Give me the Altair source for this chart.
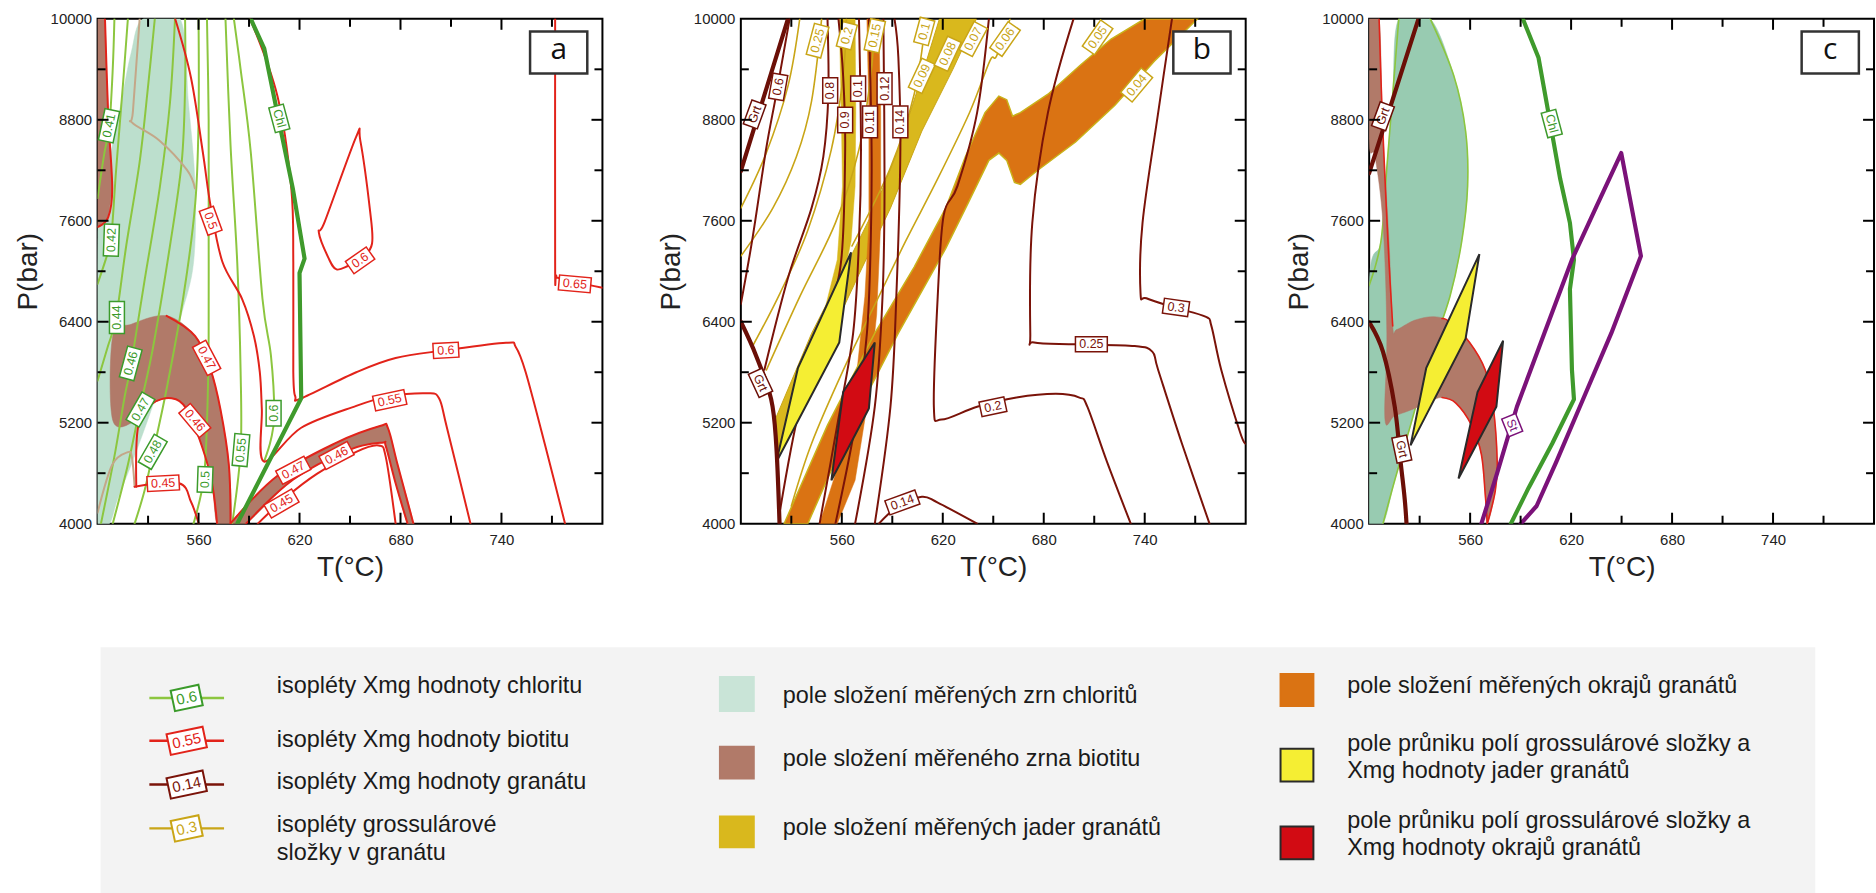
import altair as alt
import pandas as pd

# ======================= DATA =======================
T_DOMAIN = [500, 800]
P_DOMAIN = [4000, 10000]
T_LABELS = [560, 620, 680, 740]
P_LABELS = [4000, 5200, 6400, 7600, 8800, 10000]
T_TICKS_MAJOR = [560, 620, 680, 740]
T_TICKS_MINOR = [530, 590, 650, 710, 770]
P_TICKS_MAJOR = [5200, 6400, 7600, 8800]
P_TICKS_MINOR = [4600, 5800, 7000, 8200, 9400]
PANEL_LETTERS = ["a", "b", "c"]

# ---------- panel a ----------
A_CHL_FIELD = [(527, 10000), (549, 10000), (554, 9000), (558, 8000), (557, 7100), (550, 6500), (541, 5900),
               (531, 5300), (520, 4700), (512, 4300), (507, 4000), (500, 4000), (500, 7400), (506, 8200),
               (514, 9000), (520, 9600)]
A_BT_STRIP = [(500, 10000), (504.4, 10000), (506.3, 8860), (508.7, 7990), (506.3, 7640), (500, 7525)]
A_BT_BLOB = [(509, 5230), (509, 6230), (520, 6370), (541, 6470), (558, 6230), (567, 5840), (573, 5360),
             (578, 4700), (579, 4000), (571, 4000), (568, 4480), (562, 4920), (553, 5360), (544, 5490),
             (532, 5420), (523, 5230)]
A_BT_RIBBON = [(578.9, 4000), (606.9, 4569), (642, 4963), (667.8, 5160), (672.5, 5138), (678.3, 4700),
               (687.7, 4000), (684.2, 4000), (677.1, 4481), (671.3, 4919), (669, 4963), (649.1, 4875),
               (616.3, 4525), (588.2, 4000)]
A_G041 = [(500, 7870), (504, 8400), (507, 8730), (509, 9400), (510, 10000)]
A_G042 = [(500, 6850), (505, 7150), (508, 7370), (511, 8200), (515, 9200), (518, 10000)]
A_G044 = [(500, 5700), (506, 6100), (511, 6450), (517, 7300), (525, 8300), (530, 9200), (534, 10000)]
A_G046 = [(502, 4000), (510, 4800), (516, 5500), (520, 5900), (528, 6900), (537, 8000), (543, 9000), (546, 10000)]
A_G047 = [(509, 4000), (518, 4700), (525, 5360), (533, 6100), (543, 7300), (550, 8300), (552, 9200), (552, 10000)]
A_G048 = [(522, 4000), (528, 4400), (533, 4850), (541, 5600), (551, 6700), (558, 7800), (560, 8800), (560, 10000)]
A_G050 = [(557, 4000), (563, 4520), (565, 5200), (566, 6200), (566, 7500), (566, 8800), (565, 10000)]
A_G055 = [(580, 4000), (585, 4870), (585, 5800), (583, 7100), (579, 8500), (576, 10000)]
A_G060 = [(599, 4740), (603, 5000), (605, 5310), (603, 6000), (598, 6670), (591, 8420), (585, 9400), (581, 10000)]
A_TAN_1 = [(525, 10000), (521, 8900), (520.4, 8770), (536.7, 8555), (553.1, 8204), (557.8, 7985)]
A_TAN_2 = [(500, 4130), (508.7, 4700), (518, 4850), (520.4, 4790), (522, 4440)]
A_R_LEFT = [(504.4, 10000), (506.3, 8860), (508.7, 7990), (506.3, 7640), (500, 7525)]
A_R_050 = [(546.1, 10000), (555.5, 9300), (562.5, 8420), (567.2, 7770), (574.2, 7110), (585.9, 6670),
           (592.9, 6230), (596.4, 5800), (597.6, 5360), (598.7, 4740), (621, 5140), (653.7, 5400),
           (672.5, 5510), (695.9, 5550), (702.9, 5490), (707.6, 5140), (721.6, 4000)]
A_R_060 = [(590.6, 10000), (606.9, 9080), (615.1, 7990), (616.3, 7110), (616.3, 5800), (617.5, 5510),
           (621, 5490), (653.7, 5800), (677.1, 5970), (706.4, 6060), (742.7, 6150), (748.5, 6100),
           (754.4, 5800), (766.1, 4920), (777.8, 4000)]
A_R_LOOP = [(635, 7590), (653.7, 8600), (656.1, 8555), (661.9, 7720), (663.1, 7330), (657.2, 7150),
            (649.1, 7065), (642, 7022), (637.4, 7150), (631.5, 7460)]
A_R_065 = [(771.9, 10000), (771.9, 7100), (772.5, 6950), (775.4, 6912), (800, 6803)]
A_R_047 = [(541, 6470), (558, 6230), (567, 5840), (573, 5360), (578, 4700), (579, 4000)]
A_R_046 = [(523, 4440), (524, 5140), (532, 5420), (544, 5490), (553, 5360), (562, 4920), (568, 4480), (571, 4000)]
A_R_045 = [(522, 4440), (548.4, 4480), (555.5, 4260), (560.1, 4000)]
A_R_047_LOW = [(578.9, 4000), (606.9, 4569), (642, 4963), (667.8, 5160), (672.5, 5138), (678.3, 4700), (687.7, 4000)]
A_R_046_LOW = [(588.2, 4000), (616.3, 4525), (649.1, 4875), (669, 4963), (671.3, 4919), (677.1, 4481), (684.2, 4000)]
A_R_045_LOW = [(595.2, 4000), (611.6, 4306), (630.3, 4591), (653.7, 4854), (667, 4930), (671.3, 4788), (677.1, 4000)]
A_CHL = [(591, 10000), (599, 9650), (607, 8860), (616, 7985), (623, 7150), (620, 6980), (621, 5490), (583, 4000)]
A_LAB_CHL = [("0.41", 506.8, 8730, 282), ("0.42", 508.2, 7370, 272), ("0.44", 511.5, 6450, 270),
             ("0.46", 519.7, 5905, 285), ("0.47", 525.5, 5357, 300), ("0.48", 532.8, 4854, 300),
             ("0.5", 563.9, 4525, 272), ("0.55", 585.2, 4875, 275), ("0.6", 604.6, 5313, 270)]
A_LAB_BT = [("0.5", 567.2, 7600, 70), ("0.47", 564.8, 5970, 62), ("0.46", 557.8, 5226, 50),
            ("0.45", 539, 4481, 357), ("0.6", 656, 7130, 325), ("0.65", 783.6, 6850, 5),
            ("0.6", 707, 6060, 357), ("0.55", 673.6, 5467, 348), ("0.47", 616.3, 4635, 332),
            ("0.46", 642, 4810, 332), ("0.45", 609.3, 4240, 330)]
A_LAB_CHL_LINE = [("Chl", 608, 8817, 75)]

# ---------- panel b ----------
B_GOLD_A = [(558.5, 10000), (559.7, 8886), (560.4, 8012), (557.3, 7138), (549.1, 6482), (535.1, 5827),
            (523.4, 5259), (519.9, 5171), (522.2, 4778), (530.4, 5084), (544.5, 5827), (558.5, 6701),
            (565.5, 7356), (567.9, 8012), (568.3, 8886), (567.9, 10000)]
B_GOLD_B = [(519.9, 5215), (542.1, 6264), (565.5, 7181), (579.6, 7750), (593.6, 8449), (607.6, 9323),
            (618, 10000), (640, 10000), (626, 9400), (607.6, 8667), (588.9, 7750), (570.2, 6963),
            (546.8, 5958), (522.2, 4822)]
B_ORANGE_C = [(574.9, 10000), (576.1, 8886), (576.1, 7575), (573.7, 6701), (567.9, 5608), (558.5, 4734),
              (546.8, 4000), (557.3, 4000), (567.9, 4516), (574.9, 5390), (580.7, 6482), (583.1, 7575),
              (583.1, 8886), (581.9, 10000)]
B_ORANGE_D = [(525.7, 4000), (551.5, 5171), (579.6, 6264), (603, 7050), (621.7, 7750), (633.4, 8361),
              (645.1, 8886), (653.3, 9082), (658, 9039), (661.5, 8842), (666.1, 8886), (682.5, 9104),
              (702, 9454), (720, 9760), (740, 10000), (771.4, 10000), (745.7, 9497), (722.3, 8973),
              (698.9, 8536), (675.5, 8186), (666.1, 8033), (662.6, 8055), (658, 8318), (653.3, 8405),
              (647.4, 8318), (635.7, 7837), (621.7, 7269), (593.6, 6264), (565.5, 5171), (539.8, 4000)]
B_X06 = [(500, 6610), (507, 7400), (515, 8450), (521, 9100), (529, 10000)]
B_X08 = [(514, 5830), (528, 6920), (542, 7750), (549, 8360), (552, 9100), (551.5, 10000)]
B_X09 = [(523.4, 4170), (535.1, 5390), (551.5, 6480), (559.7, 7140), (562, 8450), (560.8, 9320), (558, 10000)]
B_X10 = [(546.8, 4000), (557.3, 5170), (566.7, 6260), (570.2, 7360), (571.4, 8450), (570.2, 10000)]
B_X11 = [(556.2, 4000), (567.9, 5170), (574.9, 6260), (577.2, 7360), (577.7, 8450), (576.1, 10000)]
B_X12 = [(567.9, 4000), (579.6, 5390), (584.2, 6700), (585.4, 8010), (584.7, 10000)]
B_X14 = [(579.6, 4000), (588.9, 5390), (592.4, 6700), (594.8, 8450), (593.6, 9540), (591.3, 10000)]
B_X14L = [(582, 4000), (593.6, 4210), (607.6, 4320), (617, 4250), (640.4, 4000)]
B_X20 = [(647.4, 10000), (640.4, 8886), (628.7, 8012), (620.5, 7662), (617, 6701), (614.7, 5390), (619.3, 5237),
         (640.4, 5390), (663.8, 5499), (687.2, 5543), (701.2, 5499), (705.9, 5390), (717.6, 4734), (731.7, 4000)]
B_X25 = [(697.7, 10000), (682.5, 8886), (673.2, 7575), (672, 6264), (674.3, 6154), (698.9, 6133), (734, 6111),
         (744.5, 6045), (748, 5827), (762.1, 4953), (778.5, 4000)]
B_X30 = [(756.2, 10000), (748, 8886), (738.7, 7575), (737.5, 6744), (741, 6679), (757.4, 6570), (776.1, 6460),
         (779.6, 6351), (785.5, 5827), (796.7, 5084), (800, 4950)]
B_S025 = [(500, 7180), (519, 7750), (533, 8360), (542, 9020), (548, 10000)]
B_S030 = [(500, 7750), (515, 8400), (528, 9200), (535, 10000)]
B_S020 = [(507, 6110), (523.4, 6744), (539.8, 7487), (553.8, 8449), (560.8, 9323), (562.7, 10000)]
B_S015 = [(515.2, 5827), (535.1, 6701), (556.2, 7575), (570.2, 8449), (577.2, 9323), (579.6, 10000)]
B_S010 = [(566, 7300), (588.9, 8230), (603, 9104), (610, 10000)]
B_S006 = [(530, 4210), (542, 4950), (561, 5830), (582, 6700), (598, 7360), (617, 8100), (636, 8890),
          (648, 9500), (652, 9560), (660, 10000)]
B_YQ = [(521.1, 4734), (533.9, 5848), (565.5, 7225), (558.5, 6154)]
B_RQ = [(553.8, 4516), (560.8, 5564), (579.6, 6154), (576.1, 5368)]
B_GRT_U = [(500, 8190), (528, 10000)]
B_GRT_L = [(500, 6400), (509, 6000), (518, 5480), (521, 4950), (523, 4000)]
B_LAB_GRS = [("0.25", 545.6, 9740, 285), ("0.2", 563, 9800, 285), ("0.15", 579.6, 9800, 282),
             ("0.1", 609, 9850, 285), ("0.09", 607.6, 9323, 295), ("0.08", 622.9, 9585, 295),
             ("0.07", 638.1, 9760, 298), ("0.06", 657, 9760, 305), ("0.05", 712, 9780, 305),
             ("0.04", 735.2, 9213, 310)]
B_LAB_GRT = [("0.6", 522.2, 9192, 280), ("0.8", 553.1, 9148, 270), ("0.1", 569.7, 9170, 270),
             ("0.12", 585.4, 9170, 270), ("0.9", 562, 8798, 270), ("0.11", 576.8, 8776, 270),
             ("0.14", 594.8, 8776, 270), ("0.14", 596, 4253, 340), ("0.2", 649.8, 5390, 348),
             ("0.25", 708.3, 6133, 0), ("0.3", 758.6, 6570, 8)]
B_LAB_GRT_LINE = [("Grt", 508.2, 8864, 290), ("Grt", 511.7, 5674, 65)]

# ---------- panel c ----------
C_TEAL = [(517.6, 10000), (536.3, 10000), (550.3, 9323), (557.3, 8667), (558.5, 8012), (555, 7356), (548, 6701),
          (536.3, 6001), (524.6, 5171), (515.2, 4516), (508.2, 4000), (500, 4000), (500, 6832), (507, 7356),
          (510.5, 8230), (514, 9104)]
C_TEAL_EDGE_R = [(536.3, 10000), (550.3, 9323), (557.3, 8667), (558.5, 8012), (555, 7356), (548, 6701),
                 (536.3, 6001), (524.6, 5171), (515.2, 4516), (508.2, 4000)]
C_TEAL_EDGE_L = [(500, 6832), (507, 7356), (510.5, 8230), (514, 9104), (517.6, 10000)]
C_BT_FIELD = [(500, 10000), (505.9, 10000), (508, 8700), (511.7, 7400), (514, 6351), (516.4, 6307), (526.9, 6417),
              (538.6, 6460), (548, 6395), (559.7, 6154), (569, 5827), (573.7, 5390), (576.1, 4734), (574.9, 4385),
              (570.2, 4000), (569, 4341), (566.7, 4822), (560.8, 5171), (551.5, 5433), (543.3, 5499), (536.3, 5455),
              (526.9, 5368), (515.2, 5281), (509.4, 5237), (510.5, 6264), (508.2, 7575), (503.5, 8361), (500, 8536)]
C_R1 = [(505.9, 10000), (507.5, 9000), (509.4, 8100), (511.7, 7140), (514, 6350)]
C_R_OUT = [(543.3, 6438), (548, 6395), (559.7, 6154), (569, 5827), (573.7, 5390), (576.1, 4734), (574.9, 4385), (570.2, 4000)]
C_R_IN = [(543.3, 5499), (551.5, 5433), (560.8, 5171), (566.7, 4822), (569, 4341), (570.2, 4000)]
C_GRT_U = [(500, 8165), (529.3, 10000)]
C_GRT_L = [(500, 6395), (508.2, 6045), (515.2, 5390), (518.7, 4734), (521.1, 4297), (522.2, 4000)]
C_YQ = [(524.6, 4931), (533.9, 5848), (565.5, 7203), (557.3, 6198)]
C_RQ = [(553.1, 4538), (564.4, 5564), (579.6, 6176), (575.6, 5390)]
C_CHL = [(591.3, 10000), (600.6, 9541), (606.5, 8886), (613.5, 8099), (619.3, 7575), (621.7, 7138), (619.3, 6788),
         (620.5, 5827), (621.7, 5477), (608.8, 4953), (594.8, 4428), (584.2, 4000)]
C_ST_LINE = [(566.7, 4000), (576.1, 4603), (587.8, 5390), (604.1, 6264), (620.5, 7138), (634.6, 7750), (649.8, 8405),
             (661.5, 7181), (643.9, 6264), (625.2, 5390), (611.2, 4734), (599.5, 4210), (590.1, 4000)]
C_LAB_GRT_LINE = [("Grt", 508.2, 8842, 290), ("Grt", 519.4, 4887, 78)]
C_LAB_CHL_LINE = [("Chl", 608.5, 8755, 75)]
C_LAB_ST_LINE = [("St", 585, 5171, 68)]

# ---------- legend ----------
LEG_ISO_SAMPLES = ["0.6", "0.55", "0.14", "0.3"]
LEG_ISO_TEXT = [["isopléty Xmg hodnoty chloritu"], ["isopléty Xmg hodnoty biotitu"],
                ["isopléty Xmg hodnoty granátu"], ["isopléty grossulárové", "složky v  granátu"]]
LEG_FIELD_TEXT = [["pole složení měřených zrn chloritů"], ["pole složení měřeného zrna biotitu"],
                  ["pole složení měřených jader granátů"]]
LEG_FIELD2_TEXT = [["pole složení měřených okrajů granátů"],
                   ["pole průniku polí grossulárové složky a", "Xmg hodnoty jader granátů"],
                   ["pole průniku polí grossulárové složky a", "Xmg hodnoty okrajů granátů"]]

# ======================= STYLE =======================
FONT = "Liberation Sans"
LEG_FONT = "Liberation Sans"
LEG_FONT_SIZE = 23.5
COL_CHL_ISO = "#8cc63f"; COL_CHL_BOX = "#3b9b2b"
COL_BT = "#e2231a"
COL_GRT = "#7a1309"; COL_GRT_THICK = "#6b0f07"
COL_GRS = "#c9a517"
COL_CHL_THICK = "#3f9a2c"
COL_ST = "#7b1279"
COL_TEAL_A = "#bcdfcd"; COL_TEAL_C = "#98cbb1"
COL_BROWN = "#b17a69"
COL_GOLD = "#d9b81d"; COL_ORANGE = "#da7313"
COL_YELLOW = "#f5ee33"; COL_RED = "#d20b13"; COL_OUT = "#2a2a2a"
COL_TAN = "#c4a788"
COL_LEG_BG = "#f3f3f3"
W_ISO = 2.0; W_THICK = 4.2

# ======================= LAYOUT =======================
PANEL = 507
ORIGIN_X, ORIGIN_Y = 96, 15          # page position of panel a's plot area
PANEL_LEFT_EXTENT = [96, 135, 120]   # room reserved left of each plot (axis side)
PANEL_BOTTOM_EXTENT = 600            # room reserved below each plot top (axis titles)
LEG_TOP, LEG_BOTTOM, LEG_RIGHT = 622, 892, 1876
LEG_BOX = (99, 643, 1821, 892)
LEG_C1_LINE = (148, 223); LEG_C1_TEXT_X = 276
LEG_C1_LINE_Y = [694, 737, 781, 825]
LEG_C1_BASE = [[689], [743], [785], [829, 857]]
LEG_C2_SW = (721, 755); LEG_C2_SW_Y = [(673, 707), (743, 775), (813, 844)]
LEG_C2_TEXT_X = 784; LEG_C2_BASE = [[699], [762], [832]]
LEG_C3_SW = (1284, 1317); LEG_C3_SW_Y = [(670, 702), (745, 778), (823, 856)]
LEG_C3_TEXT_X = 1351; LEG_C3_BASE = [[689], [747, 774], [825, 852]]
LETTER_BOX = (757, 791, 9350, 9850)

XS = alt.Scale(domain=T_DOMAIN, nice=False, zero=False)
YS = alt.Scale(domain=P_DOMAIN, nice=False, zero=False)
AXX = alt.Axis(values=T_LABELS, ticks=False, domain=False, grid=False, labelFontSize=15, labelPadding=9,
               labelFlush=False, title="T(°C)", titleFontSize=28, titlePadding=6)
AXY = alt.Axis(values=P_LABELS, format="d", ticks=False, domain=False, grid=False, labelFontSize=15,
               labelPadding=6, labelFlush=False, title="P(bar)", titleFontSize=28, titlePadding=8)


def xenc(f="T"):
    return alt.X(f"{f}:Q", scale=XS, axis=AXX)


def yenc(f="P"):
    return alt.Y(f"{f}:Q", scale=YS, axis=AXY)


def line_layer(curves, interp="cardinal"):
    rows = []
    for k, (pts, color, width) in enumerate(curves):
        for i, (t, p) in enumerate(pts):
            rows.append({"name": f"c{k}", "i": i, "T": t, "P": p, "color": color, "width": width})
    return alt.Chart(pd.DataFrame(rows)).mark_line(
        interpolate=interp, clip=True, strokeJoin="round", strokeCap="round").encode(
        x=xenc(), y=yenc(), detail="name:N", order="i:Q",
        color=alt.Color("color:N", scale=None),
        strokeWidth=alt.StrokeWidth("width:Q", scale=None))


def poly_layer(polys, interp):
    rows = []
    for k, (pts, fill, stroke, width) in enumerate(polys):
        for i, (t, p) in enumerate(pts):
            rows.append({"name": f"p{k}", "i": i, "T": t, "P": p, "fill": fill, "stroke": stroke, "width": width})
    return alt.Chart(pd.DataFrame(rows)).mark_line(
        interpolate=interp, clip=True, strokeJoin="miter").encode(
        x=xenc(), y=yenc(), detail="name:N", order="i:Q",
        fill=alt.Fill("fill:N", scale=None), stroke=alt.Stroke("stroke:N", scale=None),
        strokeWidth=alt.StrokeWidth("width:Q", scale=None))


def box_shape(w, h):
    r = h / w
    return f"M-1,{-r:.4f}L1,{-r:.4f}L1,{r:.4f}L-1,{r:.4f}Z"


def label_layers(groups):
    rows = []
    for labels, color in groups:
        for text, t, p, ang in labels:
            w = 6.5 * len(text) + 6
            h = 15
            rows.append({"text": text, "T": t, "P": p, "angle": ang % 360, "color": color,
                         "shape": box_shape(w, h), "size": w * w})
    df = pd.DataFrame(rows)
    box = alt.Chart(df).mark_point(fill="white", fillOpacity=1, opacity=1, strokeWidth=1.5, clip=False).encode(
        x=xenc(), y=yenc(), shape=alt.Shape("shape:N", scale=None), size=alt.Size("size:Q", scale=None),
        angle=alt.Angle("angle:Q", scale=None), stroke=alt.Stroke("color:N", scale=None))
    txt = alt.Chart(df).mark_text(font=FONT, fontSize=12.5, align="center", baseline="middle").encode(
        x=xenc(), y=yenc(), text="text:N", angle=alt.Angle("angle:Q", scale=None),
        color=alt.Color("color:N", scale=None))
    return [box, txt]


def tick_layers():
    layers = []
    for vals, L in [(T_TICKS_MAJOR, 11), (T_TICKS_MINOR, 8)]:
        dfb = pd.DataFrame({"T": vals, "P": [P_DOMAIN[0]] * len(vals)})
        dft = pd.DataFrame({"T": vals, "P": [P_DOMAIN[1]] * len(vals)})
        layers.append(alt.Chart(dfb).mark_rule(color="black", strokeWidth=2, y2Offset=-L).encode(
            x=xenc(), y=yenc(), y2=alt.Y2("P:Q")))
        layers.append(alt.Chart(dft).mark_rule(color="black", strokeWidth=2, y2Offset=L).encode(
            x=xenc(), y=yenc(), y2=alt.Y2("P:Q")))
    for vals, L in [(P_TICKS_MAJOR, 11), (P_TICKS_MINOR, 8)]:
        dfl = pd.DataFrame({"P": vals, "T": [T_DOMAIN[0]] * len(vals)})
        dfr = pd.DataFrame({"P": vals, "T": [T_DOMAIN[1]] * len(vals)})
        layers.append(alt.Chart(dfl).mark_rule(color="black", strokeWidth=2, x2Offset=L).encode(
            y=yenc(), x=xenc(), x2=alt.X2("T:Q")))
        layers.append(alt.Chart(dfr).mark_rule(color="black", strokeWidth=2, x2Offset=-L).encode(
            y=yenc(), x=xenc(), x2=alt.X2("T:Q")))
    return layers


def letter_layers(letter):
    t1, t2, p1, p2 = LETTER_BOX
    df = pd.DataFrame({"T": [t1], "T2": [t2], "P": [p1], "P2": [p2],
                       "Tc": [(t1 + t2) / 2], "Pc": [(p1 + p2) / 2], "L": [letter]})
    rect = alt.Chart(df).mark_rect(fill="white", stroke="#333333", strokeWidth=2.5).encode(
        x=xenc(), x2=alt.X2("T2:Q"), y=yenc(), y2=alt.Y2("P2:Q"))
    txt = alt.Chart(df).mark_text(font="Open Sans", fontSize=30, baseline="middle", align="center",
                                  color="#111111", dy=-2).encode(
        x=xenc("Tc"), y=yenc("Pc"), text="L:N")
    return [rect, txt]


def anchor_layer(left_px):
    # invisible points fixing each panel's layout bounds (left/top and right/bottom)
    tpp = (T_DOMAIN[1] - T_DOMAIN[0]) / PANEL
    ppp = (P_DOMAIN[1] - P_DOMAIN[0]) / PANEL
    df = pd.DataFrame({"T": [T_DOMAIN[0] - left_px * tpp, T_DOMAIN[1] - 0.6 * tpp],
                       "P": [P_DOMAIN[1] + ORIGIN_Y * ppp, P_DOMAIN[1] - PANEL_BOTTOM_EXTENT * ppp]})
    return alt.Chart(df).mark_point(opacity=0, size=1, clip=False).encode(x=xenc(), y=yenc())


VIEW = alt.ViewBackground(stroke="black", strokeWidth=2, fill="white")

# ---------- panel a ----------
a_layers = [
    poly_layer([(A_CHL_FIELD, COL_TEAL_A, COL_TEAL_A, 0.5)], "cardinal-closed"),
    poly_layer([(A_BT_STRIP, COL_BROWN, COL_BROWN, 0.5)], "linear-closed"),
    poly_layer([(A_BT_BLOB, COL_BROWN, COL_BROWN, 0.5), (A_BT_RIBBON, COL_BROWN, COL_BROWN, 0.5)], "cardinal-closed"),
    line_layer([(g, COL_CHL_ISO, W_ISO) for g in [A_G041, A_G042, A_G044, A_G046, A_G047, A_G048,
                                                   A_G050, A_G055, A_G060]]),
    line_layer([(A_TAN_1, COL_TAN, W_ISO), (A_TAN_2, COL_TAN, W_ISO)]),
    line_layer([(c, COL_BT, W_ISO) for c in [A_R_LEFT, A_R_050, A_R_060, A_R_065, A_R_047, A_R_046, A_R_045,
                                             A_R_047_LOW, A_R_046_LOW, A_R_045_LOW]]),
    line_layer([(A_R_LOOP, COL_BT, W_ISO)], "cardinal-closed"),
    line_layer([(A_CHL, COL_CHL_THICK, W_THICK)], "linear"),
]
a_layers += label_layers([(A_LAB_CHL, COL_CHL_BOX), (A_LAB_BT, COL_BT), (A_LAB_CHL_LINE, COL_CHL_THICK)])
a_layers += tick_layers() + letter_layers(PANEL_LETTERS[0]) + [anchor_layer(PANEL_LEFT_EXTENT[0])]
panel_a = alt.layer(*a_layers).properties(width=PANEL, height=PANEL, view=VIEW)

# ---------- panel b ----------
b_layers = [
    poly_layer([(B_GOLD_A, COL_GOLD, COL_GOLD, 0.5), (B_GOLD_B, COL_GOLD, COL_GRS, 1.0),
                (B_ORANGE_C, COL_ORANGE, COL_ORANGE, 0.5), (B_ORANGE_D, COL_ORANGE, "#c9b21a", 1.5)],
               "linear-closed"),
    line_layer([(c, COL_GRS, 1.6) for c in [B_S025, B_S030, B_S020, B_S015, B_S010, B_S006]]),
    line_layer([(c, COL_GRT, W_ISO) for c in [B_X06, B_X08, B_X09, B_X10, B_X11, B_X12, B_X14, B_X14L,
                                              B_X20, B_X25, B_X30]]),
    poly_layer([(B_YQ, COL_YELLOW, COL_OUT, 2.0), (B_RQ, COL_RED, COL_OUT, 2.0)], "linear-closed"),
    line_layer([(B_GRT_U, COL_GRT_THICK, W_THICK), (B_GRT_L, COL_GRT_THICK, W_THICK)]),
]
b_layers += label_layers([(B_LAB_GRS, COL_GRS), (B_LAB_GRT, COL_GRT), (B_LAB_GRT_LINE, COL_GRT_THICK)])
b_layers += tick_layers() + letter_layers(PANEL_LETTERS[1]) + [anchor_layer(PANEL_LEFT_EXTENT[1])]
panel_b = alt.layer(*b_layers).properties(width=PANEL, height=PANEL, view=VIEW)

# ---------- panel c ----------
c_layers = [
    poly_layer([(C_TEAL, COL_TEAL_C, COL_TEAL_C, 0.5)], "cardinal-closed"),
    line_layer([(C_TEAL_EDGE_R, COL_CHL_ISO, 1.6), (C_TEAL_EDGE_L, COL_CHL_ISO, 1.6)]),
    poly_layer([(C_BT_FIELD, COL_BROWN, COL_BROWN, 0.5)], "cardinal-closed"),
    line_layer([(c, COL_BT, 1.6) for c in [C_R1, C_R_OUT, C_R_IN]]),
    line_layer([(C_GRT_U, COL_GRT_THICK, W_THICK), (C_GRT_L, COL_GRT_THICK, W_THICK)]),
    poly_layer([(C_YQ, COL_YELLOW, COL_OUT, 2.0), (C_RQ, COL_RED, COL_OUT, 2.0)], "linear-closed"),
    line_layer([(C_CHL, COL_CHL_THICK, W_THICK)], "linear"),
    line_layer([(C_ST_LINE, COL_ST, W_THICK)], "linear"),
]
c_layers += label_layers([(C_LAB_GRT_LINE, COL_GRT_THICK), (C_LAB_CHL_LINE, COL_CHL_THICK),
                          (C_LAB_ST_LINE, COL_ST)])
c_layers += tick_layers() + letter_layers(PANEL_LETTERS[2]) + [anchor_layer(PANEL_LEFT_EXTENT[2])]
panel_c = alt.layer(*c_layers).properties(width=PANEL, height=PANEL, view=VIEW)

# ---------- legend ----------
LXS = alt.Scale(domain=[ORIGIN_X, LEG_RIGHT], nice=False, zero=False)
LYS = alt.Scale(domain=[LEG_TOP, LEG_BOTTOM], nice=False, zero=False, reverse=True)


def lx(f="x"):
    return alt.X(f"{f}:Q", scale=LXS, axis=None)


def ly(f="y"):
    return alt.Y(f"{f}:Q", scale=LYS, axis=None)


bg = pd.DataFrame({"x": [LEG_BOX[0]], "x2": [LEG_BOX[2]], "y": [LEG_BOX[1]], "y2": [LEG_BOX[3]]})
leg_layers = [alt.Chart(bg).mark_rect(fill=COL_LEG_BG).encode(x=lx(), x2=alt.X2("x2:Q"), y=ly(), y2=alt.Y2("y2:Q"))]
leg_anchor = pd.DataFrame({"x": [0], "y": [LEG_TOP]})
leg_layers.append(alt.Chart(leg_anchor).mark_point(opacity=0, size=1, clip=False).encode(x=lx(), y=ly()))

iso_line_cols = [COL_CHL_ISO, COL_BT, COL_GRT, COL_GRS]
iso_box_cols = [COL_CHL_BOX, COL_BT, COL_GRT, COL_GRS]
samp = pd.DataFrame({"x": [LEG_C1_LINE[0]] * 4, "x2": [LEG_C1_LINE[1]] * 4, "y": LEG_C1_LINE_Y,
                     "color": iso_line_cols})
leg_layers.append(alt.Chart(samp).mark_rule(strokeWidth=2.5).encode(
    x=lx(), x2=alt.X2("x2:Q"), y=ly(), color=alt.Color("color:N", scale=None)))
sb_w = [8.5 * len(s) + 3 for s in LEG_ISO_SAMPLES]
sbox = pd.DataFrame({"x": [(LEG_C1_LINE[0] + LEG_C1_LINE[1]) / 2] * 4, "y": LEG_C1_LINE_Y,
                     "text": LEG_ISO_SAMPLES, "color": iso_box_cols,
                     "shape": [box_shape(w, 21) for w in sb_w], "size": [w * w for w in sb_w],
                     "angle": [348] * 4})
leg_layers.append(alt.Chart(sbox).mark_point(fill="white", fillOpacity=1, opacity=1, strokeWidth=2).encode(
    x=lx(), y=ly(), shape=alt.Shape("shape:N", scale=None), size=alt.Size("size:Q", scale=None),
    angle=alt.Angle("angle:Q", scale=None), stroke=alt.Stroke("color:N", scale=None)))
leg_layers.append(alt.Chart(sbox).mark_text(font=FONT, fontSize=15, baseline="middle", align="center").encode(
    x=lx(), y=ly(), text="text:N", angle=alt.Angle("angle:Q", scale=None),
    color=alt.Color("color:N", scale=None)))

sw_rows = []
for (y1, y2), fill in zip(LEG_C2_SW_Y, ["#c9e4d7", COL_BROWN, COL_GOLD]):
    sw_rows.append({"x": LEG_C2_SW[0], "x2": LEG_C2_SW[1], "y": y1, "y2": y2, "fill": fill, "stroke": fill})
for (y1, y2), fill, st in zip(LEG_C3_SW_Y, [COL_ORANGE, COL_YELLOW, COL_RED], [COL_ORANGE, COL_OUT, COL_OUT]):
    sw_rows.append({"x": LEG_C3_SW[0], "x2": LEG_C3_SW[1], "y": y1, "y2": y2, "fill": fill, "stroke": st})
leg_layers.append(alt.Chart(pd.DataFrame(sw_rows)).mark_rect(strokeWidth=2).encode(
    x=lx(), x2=alt.X2("x2:Q"), y=ly(), y2=alt.Y2("y2:Q"),
    fill=alt.Fill("fill:N", scale=None), stroke=alt.Stroke("stroke:N", scale=None)))

txt_rows = []
for xpos, texts, bases in [(LEG_C1_TEXT_X, LEG_ISO_TEXT, LEG_C1_BASE),
                           (LEG_C2_TEXT_X, LEG_FIELD_TEXT, LEG_C2_BASE),
                           (LEG_C3_TEXT_X, LEG_FIELD2_TEXT, LEG_C3_BASE)]:
    for lines, ys in zip(texts, bases):
        for line, yv in zip(lines, ys):
            txt_rows.append({"x": xpos, "y": yv, "text": line})
leg_layers.append(alt.Chart(pd.DataFrame(txt_rows)).mark_text(
    font=LEG_FONT, fontSize=LEG_FONT_SIZE, align="left", baseline="alphabetic", color="#1a1a1a").encode(
    x=lx(), y=ly(), text="text:N"))

legend = alt.layer(*leg_layers).properties(
    width=LEG_RIGHT - ORIGIN_X, height=LEG_BOTTOM - LEG_TOP,
    view=alt.ViewBackground(stroke="transparent"))

row = alt.hconcat(panel_a, panel_b, panel_c, spacing=0)
chart = alt.vconcat(row, legend, spacing=LEG_TOP - ORIGIN_Y - PANEL_BOTTOM_EXTENT).properties(
    padding=0, background="white"
).configure_view(strokeWidth=0).configure_axis(
    labelFont=FONT, titleFont=FONT, labelColor="#222222", titleColor="#222222", titleFontWeight="normal"
)

chart.save("out.html", embed_options={"renderer": "svg", "actions": False})
